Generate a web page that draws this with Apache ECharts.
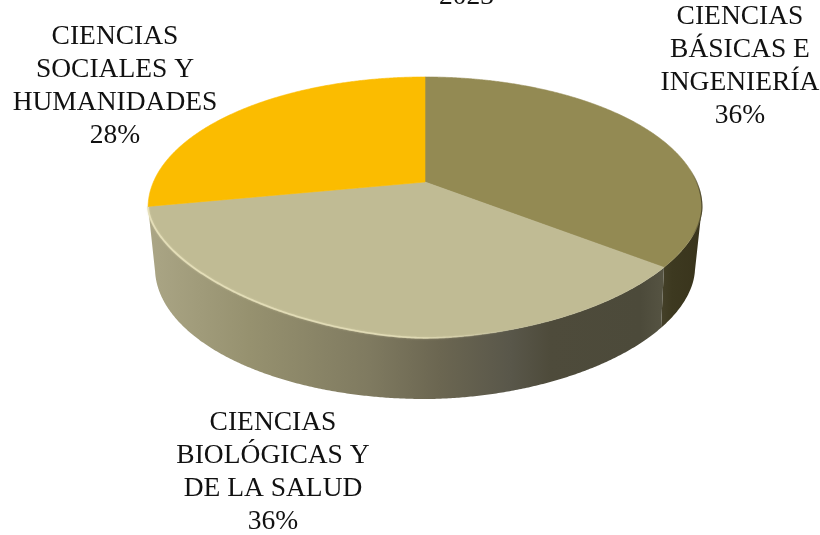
<!DOCTYPE html>
<html><head><meta charset="utf-8">
<style>html,body{margin:0;padding:0;background:#fff}#c{width:820px;height:535px}</style>
<script src="https://cdn.jsdelivr.net/npm/echarts@6/dist/echarts.min.js"></script>
</head><body><div id="c"></div>
<script>
const titleText = '2023';
const categories = ['CIENCIAS\nBÁSICAS E\nINGENIERÍA', 'CIENCIAS\nBIOLÓGICAS Y\nDE LA SALUD', 'CIENCIAS\nSOCIALES Y\nHUMANIDADES'];
const values = [36, 36, 28];

const topColors = ['#938a53', '#c0bb94', '#fbbc00'];
const labelAnchors = [[740, 0], [273, 406], [115, 20]];
const K = 0.195, CX = 425;
const TOP = {k: K, a: 271.6, b: 125.5, y0: 182, cy: 207, ry: 131, pL: 1.72, pR: 1.85};
const BOT = {k: 0.22, a: 263.4, b: 125.5, y0: 243, cy: 268, ry: 131, pL: 2, pR: 1.9};
const FRONT_L = Math.acos(-K), FRONT_R = 2 * Math.PI - Math.acos(-K);
const FONT = '"Liberation Serif", serif';
const total = values.reduce((s, v) => s + v, 0);

function proj(p, t) {
  const u = Math.sin(t), v = Math.cos(t), w = 1 + p.k * v;
  const dx = p.a * u / w;
  const y = p.y0 - p.b * v / w;
  if (y <= p.cy) return [CX + dx, y];
  const maxX = p.a / Math.sqrt(1 - p.k * p.k);
  const n = Math.min(1, Math.abs(dx) / maxX);
  const e = dx < 0 ? p.pL : p.pR;
  return [CX + dx, p.cy + p.ry * Math.pow(1 - Math.pow(n, e), 1 / e)];
}
function arc(p, t0, t1) {
  const n = Math.max(2, Math.ceil(Math.abs(t1 - t0) / 0.006)), out = [];
  for (let i = 0; i <= n; i++) out.push(proj(p, t0 + (t1 - t0) * i / n));
  return out;
}
const G = (stops, x0, x1) => new echarts.graphic.LinearGradient(x0, 0, x1, 0, stops, true);
const wallFill = [
  () => G([{offset: 0, color: '#45412a'}, {offset: 0.3, color: '#3d3920'}, {offset: 1, color: '#39341c'}], 660, 700),
  () => G([
    {offset: 0, color: '#aaa585'}, {offset: 0.194, color: '#96916f'}, {offset: 0.427, color: '#7f7a60'},
    {offset: 0.563, color: '#6b6651'}, {offset: 0.699, color: '#59574a'}, {offset: 0.777, color: '#4e4b3b'},
    {offset: 0.951, color: '#4c4a3a'}, {offset: 1, color: '#565443'}], 150, 665),
  () => '#aaa585'
];

function renderItem(params, api) {
  const i = params.dataIndex;
  let start = 0;
  for (let j = 0; j < i; j++) start += values[j];
  const t0 = start / total * 2 * Math.PI;
  const t1 = (start + api.value(0)) / total * 2 * Math.PI;
  const children = [];
  const w0 = Math.max(t0, FRONT_L), w1 = Math.min(t1, FRONT_R);
  if (w1 > w0) {
    const pts = arc(TOP, w0, w1).concat(arc(BOT, w1, w0));
    children.push({type: 'polygon', shape: {points: pts}, style: {fill: wallFill[i]()}, silent: true});
  }
  const face = [[CX, TOP.y0]].concat(arc(TOP, t0, t1));
  children.push({type: 'polygon', shape: {points: face},
    style: {fill: topColors[i], stroke: topColors[i], lineWidth: 0.6}});
  if (i === 1) {
    children.push({type: 'polyline', shape: {points: arc(TOP, t1, 2.75)}, silent: true,
      style: {fill: 'none', lineWidth: 1.8, shadowBlur: 2, shadowColor: 'rgba(232,226,188,0.6)',
        stroke: G([{offset: 0, color: 'rgba(232,226,188,0.85)'}, {offset: 0.72, color: 'rgba(232,226,188,0.7)'},
                   {offset: 1, color: 'rgba(232,226,188,0)'}], 150, 510)}});
  }
  if (i === 0) {
    children.push({type: 'polyline', shape: {points: arc(TOP, 1.4, t1)}, silent: true,
      style: {fill: 'none', lineWidth: 1.2,
        stroke: G([{offset: 0, color: 'rgba(60,55,30,0)'}, {offset: 1, color: 'rgba(60,55,30,0.8)'}], 690, 701)}});
  }
  const pct = Math.round(api.value(0) / total * 100) + '%';
  children.push({type: 'text', x: labelAnchors[i][0], y: labelAnchors[i][1], silent: true,
    style: {text: categories[i] + '\n' + pct, font: '27.5px ' + FONT, lineHeight: 33,
      fill: '#111', align: 'center', verticalAlign: 'top'}});
  return {type: 'group', children};
}

const chart = echarts.init(document.getElementById('c'), null, {renderer: 'canvas'});
chart.setOption({
  animation: false,
  backgroundColor: '#fff',
  title: {text: titleText, left: 439, top: -17, padding: 0,
    textStyle: {fontFamily: FONT, fontSize: 27.5, fontWeight: 'normal', color: '#111'}},
  series: [{type: 'custom', coordinateSystem: 'none', renderItem,
    data: values.map((v, i) => ({value: [v], name: categories[i]}))}]
});
</script></body></html>
